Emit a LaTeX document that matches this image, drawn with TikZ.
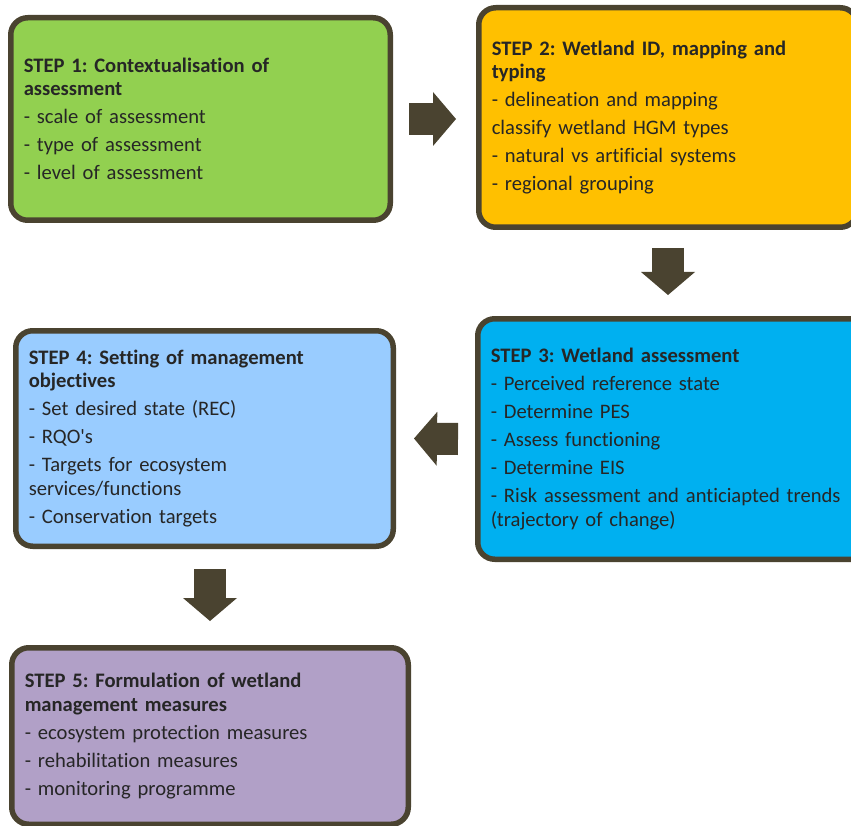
\documentclass[tikz,border=0pt]{standalone}
\usepackage{fontspec}
\setmainfont{Carlito}[Ligatures={TeX,NoCommon}]
\usetikzlibrary{arrows.meta}

\definecolor{stepgreen}{HTML}{92D050}
\definecolor{steporange}{HTML}{FFC000}
\definecolor{stepcyan}{HTML}{00B0F0}
\definecolor{steplblue}{HTML}{99CCFF}
\definecolor{steppurple}{HTML}{B1A0C7}
\definecolor{boxedge}{HTML}{4A4330}
\definecolor{txtgray}{HTML}{262626}

\frenchspacing

\begin{document}
\begin{tikzpicture}[x=1pt, y=-1pt,
    stepbox/.style={draw=boxedge, line width=5.5pt, rounded corners=17pt,
        anchor=north west, inner xsep=13pt, inner ysep=0pt, align=left,
        text=txtgray, font=\fontsize{20.6}{23.5}\selectfont},
    blockarrow/.style={draw=boxedge, line width=32pt,
        -{Triangle[length=23pt, width=54pt, line width=0pt]}}]

    % Page size
    \useasboundingbox (0,0) rectangle (851,826);
    \clip (0,0) rectangle (851,826);

    % Step boxes
    \node[stepbox, fill=stepgreen, minimum width=379.5pt, minimum height=202.5pt, text width=353.5pt] (s1) at (8,15)
        {\textbf{STEP 1: Contextualisation of}\\ \textbf{assessment}\\[4.5pt]
         - scale of assessment\\[4.5pt]
         - type of assessment\\[4.5pt]
         - level of assessment};

    \node[stepbox, fill=steporange, minimum width=378.5pt, minimum height=219.5pt, text width=352.5pt] (s2) at (476,5)
        {\textbf{STEP 2: Wetland ID, mapping and}\\ \textbf{typing}\\[4.5pt]
         - delineation and mapping\\[4.5pt]
         classify wetland HGM types\\[4.5pt]
         - natural vs artificial systems\\[4.5pt]
         - regional grouping};

    % right side runs off the page, so the text may use more room
    \node[stepbox, fill=stepcyan, minimum width=379.5pt, minimum height=240.5pt, text width=370pt] (s3) at (475,316)
        {\textbf{STEP 3: Wetland assessment}\\[4.5pt]
         - Perceived reference state\\[4.5pt]
         - Determine PES\\[4.5pt]
         - Assess functioning\\[4.5pt]
         - Determine EIS\\[4.5pt]
         - Risk assessment and anticiapted trends\\ (trajectory of change)};

    \node[stepbox, fill=steplblue, minimum width=377.5pt, minimum height=215.5pt, text width=351.5pt] (s4) at (13,328)
        {\textbf{STEP 4: Setting of management}\\ \textbf{objectives}\\[4.5pt]
         - Set desired state (REC)\\[4.5pt]
         - RQO\textquotesingle s\\[4.5pt]
         - Targets for ecosystem\\ services/functions\\[4.5pt]
         - Conservation targets};

    \node[stepbox, fill=steppurple, minimum width=396.5pt, minimum height=176.5pt, text width=370.5pt] (s5) at (9,645)
        {\textbf{STEP 5: Formulation of wetland}\\ \textbf{management measures}\\[4.5pt]
         - ecosystem protection measures\\[4.5pt]
         - rehabilitation measures\\[4.5pt]
         - monitoring programme};

    % Block arrows between the steps
    \coordinate (r12) at (s2.west |- s1.east);
    \coordinate (d23) at (s2.south |- s3.north);
    \coordinate (d45) at (s5.north |- s4.south);
    \draw[blockarrow] ([xshift=16pt]s1.east) -- ([xshift=-20pt]r12);
    \draw[blockarrow] ([yshift=-18pt]s2.south) -- ([yshift=21pt]d23);
    \draw[blockarrow] ([xshift=-17pt]s3.west) -- ([xshift=18pt]s4.east);
    \draw[blockarrow] ([yshift=-20pt]d45) -- ([yshift=24pt]s5.north);

\end{tikzpicture}
\end{document}
